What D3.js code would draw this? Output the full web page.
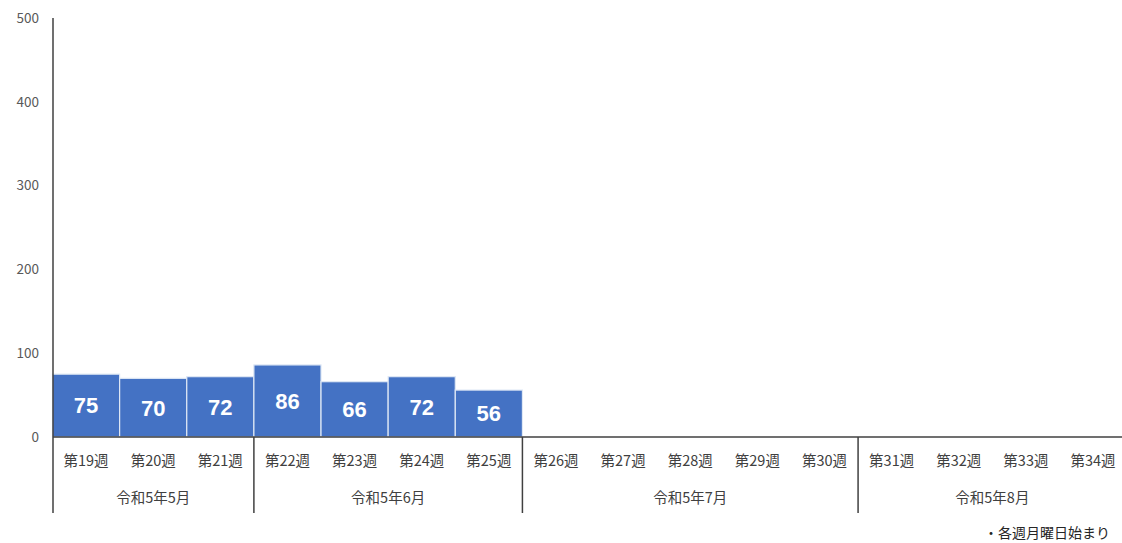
<!DOCTYPE html>
<html><head><meta charset="utf-8">
<script src="https://cdn.jsdelivr.net/npm/d3@7"></script>
<style>body{margin:0;background:#fff}svg{display:block}</style>
</head><body>
<svg id="c" width="1122" height="543"></svg>
<script>
const weeks = ["第19週","第20週","第21週","第22週","第23週","第24週","第25週","第26週","第27週","第28週","第29週","第30週","第31週","第32週","第33週","第34週"];
const values = [75,70,72,86,66,72,56,null,null,null,null,null,null,null,null,null];
const months = ["令和5年5月","令和5年6月","令和5年7月","令和5年8月"];
const monthStart = [0,3,7,12];
const monthEnd = [3,7,12,16];
const yTicks = [0,100,200,300,400,500];
const note = "・各週月曜日始まり";

const svg = d3.select("#c");
const font = "'Noto Sans CJK JP','Noto Sans',sans-serif";
const x = d3.scaleBand().domain(weeks).range([52.5,1126.6]).padding(0);
const y = d3.scaleLinear().domain([0,500]).range([437,18]);

// y tick labels
svg.append("g").selectAll("text").data(yTicks).join("text")
  .attr("x",39).attr("y",d=>y(d)).attr("dy","0.35em").attr("text-anchor","end")
  .attr("font-family",font).attr("font-size",13.5).attr("fill","#595959").text(d=>d);

// bars
const data = weeks.map((w,i)=>({w,v:values[i]})).filter(d=>d.v!=null);
svg.append("g").selectAll("rect").data(data).join("rect")
  .attr("x",d=>x(d.w)).attr("width",x.bandwidth())
  .attr("y",d=>y(d.v)).attr("height",d=>y(0)-y(d.v))
  .attr("fill","#4472C4").attr("stroke","#dfe8f5").attr("stroke-width",1.2);
svg.append("g").selectAll("text").data(data).join("text")
  .attr("x",d=>x(d.w)+x.bandwidth()/2).attr("y",d=>(y(d.v)+y(0))/2).attr("dy","0.36em")
  .attr("text-anchor","middle").attr("font-family","Arial,'Liberation Sans',sans-serif")
  .attr("font-weight","bold").attr("font-size",22).attr("fill","#fff").text(d=>d.v);

// axes lines
svg.append("line").attr("x1",53).attr("x2",1122).attr("y1",y(0)).attr("y2",y(0))
  .attr("stroke","#404040").attr("stroke-width",1.5);
svg.append("line").attr("x1",53).attr("x2",53).attr("y1",y(500)).attr("y2",513)
  .attr("stroke","#404040").attr("stroke-width",1.5);
// group separators
const seps = monthStart.slice(1).map(i=>x(weeks[i]));
svg.append("g").selectAll("line").data(seps).join("line")
  .attr("x1",d=>d).attr("x2",d=>d).attr("y1",y(0)).attr("y2",513)
  .attr("stroke","#404040").attr("stroke-width",1.5);

// week labels
svg.append("g").selectAll("text").data(weeks).join("text")
  .attr("x",d=>x(d)+x.bandwidth()/2).attr("y",461).attr("dy","0.35em").attr("text-anchor","middle")
  .attr("font-family",font).attr("font-size",14.5).attr("fill","#404040").text(d=>d);

// month labels
svg.append("g").selectAll("text").data(months).join("text")
  .attr("x",(d,i)=>(x(weeks[monthStart[i]]) + (monthEnd[i]<16 ? x(weeks[monthEnd[i]]) : 1126.6))/2)
  .attr("y",498).attr("dy","0.35em").attr("text-anchor","middle")
  .attr("font-family",font).attr("font-size",14.5).attr("fill","#404040").text(d=>d);

svg.append("text").attr("x",1110).attr("y",533).attr("dy","0.35em").attr("text-anchor","end")
  .attr("font-family",font).attr("font-size",14).attr("fill","#262626").text(note);
</script>
</body></html>
